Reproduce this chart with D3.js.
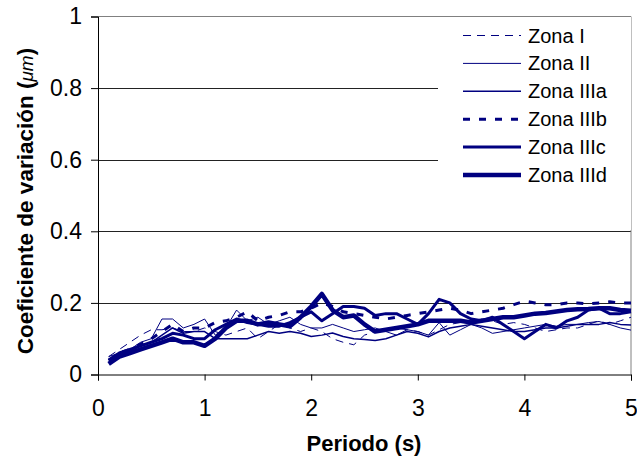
<!DOCTYPE html>
<html><head><meta charset="utf-8">
<script src="https://cdn.jsdelivr.net/npm/d3@7"></script>
<style>body{margin:0;background:#fff}svg text{font-family:"Liberation Sans",Arial,sans-serif}</style>
</head><body><svg id="c" width="637" height="459"></svg>
<script>
const periods = d3.range(1, 51).map(i => i / 10);
const xTicks = [0, 1, 2, 3, 4, 5];
const yTicks = [0, 0.2, 0.4, 0.6, 0.8, 1];
const yTickLabels = ["0", "0.2", "0.4", "0.6", "0.8", "1"];
const seriesNames = ["Zona I", "Zona II", "Zona IIIa", "Zona IIIb", "Zona IIIc", "Zona IIId"];
const zonaI = [0.05,0.07,0.09,0.11,0.125,0.125,0.13,0.12,0.12,0.13,0.12,0.11,0.12,0.13,0.10,0.12,0.14,0.13,0.12,0.13,0.12,0.10,0.09,0.083,0.11,0.12,0.125,0.13,0.125,0.12,0.11,0.125,0.14,0.145,0.15,0.155,0.15,0.14,0.145,0.14,0.13,0.12,0.125,0.13,0.13,0.14,0.15,0.14,0.15,0.16];
const zonaII = [0.05,0.06,0.07,0.09,0.10,0.155,0.155,0.13,0.14,0.155,0.11,0.13,0.18,0.15,0.16,0.14,0.15,0.16,0.14,0.13,0.13,0.14,0.13,0.12,0.125,0.13,0.12,0.11,0.125,0.12,0.11,0.145,0.11,0.125,0.14,0.13,0.115,0.12,0.125,0.13,0.135,0.14,0.135,0.14,0.14,0.145,0.148,0.14,0.13,0.124];
const zonaIIIa = [0.04,0.055,0.065,0.08,0.09,0.11,0.13,0.115,0.12,0.12,0.10,0.10,0.10,0.10,0.11,0.12,0.115,0.12,0.115,0.106,0.11,0.116,0.106,0.10,0.098,0.095,0.10,0.11,0.12,0.115,0.105,0.12,0.13,0.135,0.14,0.135,0.13,0.125,0.12,0.12,0.125,0.13,0.13,0.135,0.14,0.14,0.14,0.145,0.14,0.138];
const zonaIIIb = [0.04,0.06,0.07,0.085,0.10,0.12,0.14,0.12,0.13,0.13,0.145,0.15,0.16,0.175,0.15,0.16,0.165,0.175,0.175,0.185,0.2,0.19,0.175,0.17,0.165,0.16,0.155,0.16,0.165,0.17,0.175,0.18,0.185,0.18,0.17,0.175,0.18,0.185,0.195,0.205,0.2,0.195,0.195,0.2,0.2,0.197,0.2,0.203,0.2,0.2];
const zonaIIIc = [0.04,0.06,0.07,0.08,0.09,0.10,0.115,0.11,0.10,0.10,0.125,0.14,0.155,0.145,0.14,0.135,0.135,0.145,0.16,0.175,0.15,0.17,0.19,0.19,0.185,0.165,0.17,0.17,0.155,0.14,0.17,0.21,0.20,0.17,0.155,0.15,0.16,0.14,0.12,0.10,0.12,0.14,0.13,0.15,0.16,0.18,0.185,0.17,0.17,0.175];
const zonaIIId = [0.03,0.05,0.06,0.07,0.08,0.09,0.10,0.09,0.09,0.08,0.10,0.13,0.15,0.15,0.14,0.145,0.14,0.135,0.16,0.19,0.225,0.18,0.16,0.165,0.14,0.12,0.125,0.13,0.135,0.14,0.15,0.15,0.15,0.15,0.145,0.15,0.155,0.16,0.16,0.165,0.17,0.172,0.176,0.18,0.182,0.183,0.185,0.185,0.18,0.178];
const seriesValues = [zonaI, zonaII, zonaIIIa, zonaIIIb, zonaIIIc, zonaIIId];
const seriesStyle = [
  {w:1, dash:"8,6"}, {w:1, dash:null}, {w:1.5, dash:null},
  {w:3, dash:"7,9"}, {w:3, dash:null}, {w:4.5, dash:null}
];
const color = "#000080";

const svg = d3.select("#c");
const L = 98, R = 631, T = 16.5, B = 374.5;
const x = d3.scaleLinear().domain([0, 5]).range([L, R]);
const y = d3.scaleLinear().domain([0, 1]).range([B, T]);

// gridlines
svg.append("g").selectAll("line").data([0.2,0.4,0.6,0.8]).join("line")
  .attr("x1", L).attr("x2", R).attr("y1", d => Math.round(y(d)) + 0.5).attr("y2", d => Math.round(y(d)) + 0.5)
  .attr("stroke", "#222").attr("stroke-width", 1);
// plot border top/right
svg.append("path").attr("d", `M${L},${T}H${R}V${B}`).attr("fill","none").attr("stroke","#808080").attr("stroke-width",1);

// series
const line = d3.line().x((d,i) => x(periods[i])).y(d => y(d));
seriesValues.forEach((vals, k) => {
  svg.append("path").datum(vals).attr("d", line)
    .attr("fill","none").attr("stroke", color)
    .attr("stroke-width", seriesStyle[k].w)
    .attr("stroke-dasharray", seriesStyle[k].dash)
    .attr("stroke-linejoin","round");
});

// axes
const yAxis = d3.axisLeft(y).tickValues(yTicks).tickFormat((d,i) => yTickLabels[i]).tickSize(7).tickPadding(9);
const gy = svg.append("g").attr("transform", `translate(${L},0)`).call(yAxis);
const xAxis = d3.axisBottom(x).tickValues(xTicks).tickFormat(d3.format("d")).tickSize(6).tickPadding(19);
const gx = svg.append("g").attr("transform", `translate(0,${B})`).call(xAxis);
[gx, gy].forEach(g => {
  g.select(".domain").attr("stroke","#000");
  g.selectAll(".tick line").attr("stroke","#000");
  g.selectAll("text").attr("font-size", 23).attr("fill","#000").attr("font-family","Liberation Sans, Arial, sans-serif");
});

// titles
svg.append("text").attr("x", 364).attr("y", 451).attr("text-anchor","middle")
  .attr("font-size", 22).attr("font-weight","bold").text("Periodo (s)");
const yt = svg.append("text").attr("transform","translate(33,201) rotate(-90)").attr("text-anchor","middle")
  .attr("font-size", 22.5).attr("font-weight","bold");
yt.append("tspan").text("Coeficiente de variación (");
yt.append("tspan").attr("font-style","italic").attr("font-weight","normal").attr("font-size",19).text("μm");
yt.append("tspan").text(")");

// legend
const lg = svg.append("g");
lg.append("rect").attr("x", 438).attr("y", 17).attr("width", 193).attr("height", 213).attr("fill","#fff");
seriesNames.forEach((name, k) => {
  const yy = 35.5 + k * 27.9;
  lg.append("line").attr("x1", 463).attr("x2", 521).attr("y1", yy).attr("y2", yy)
    .attr("stroke", color).attr("stroke-width", seriesStyle[k].w).attr("stroke-dasharray", seriesStyle[k].dash);
  lg.append("text").attr("x", 528).attr("y", yy + 7).attr("font-size", 20).text(name);
});
</script></body></html>
